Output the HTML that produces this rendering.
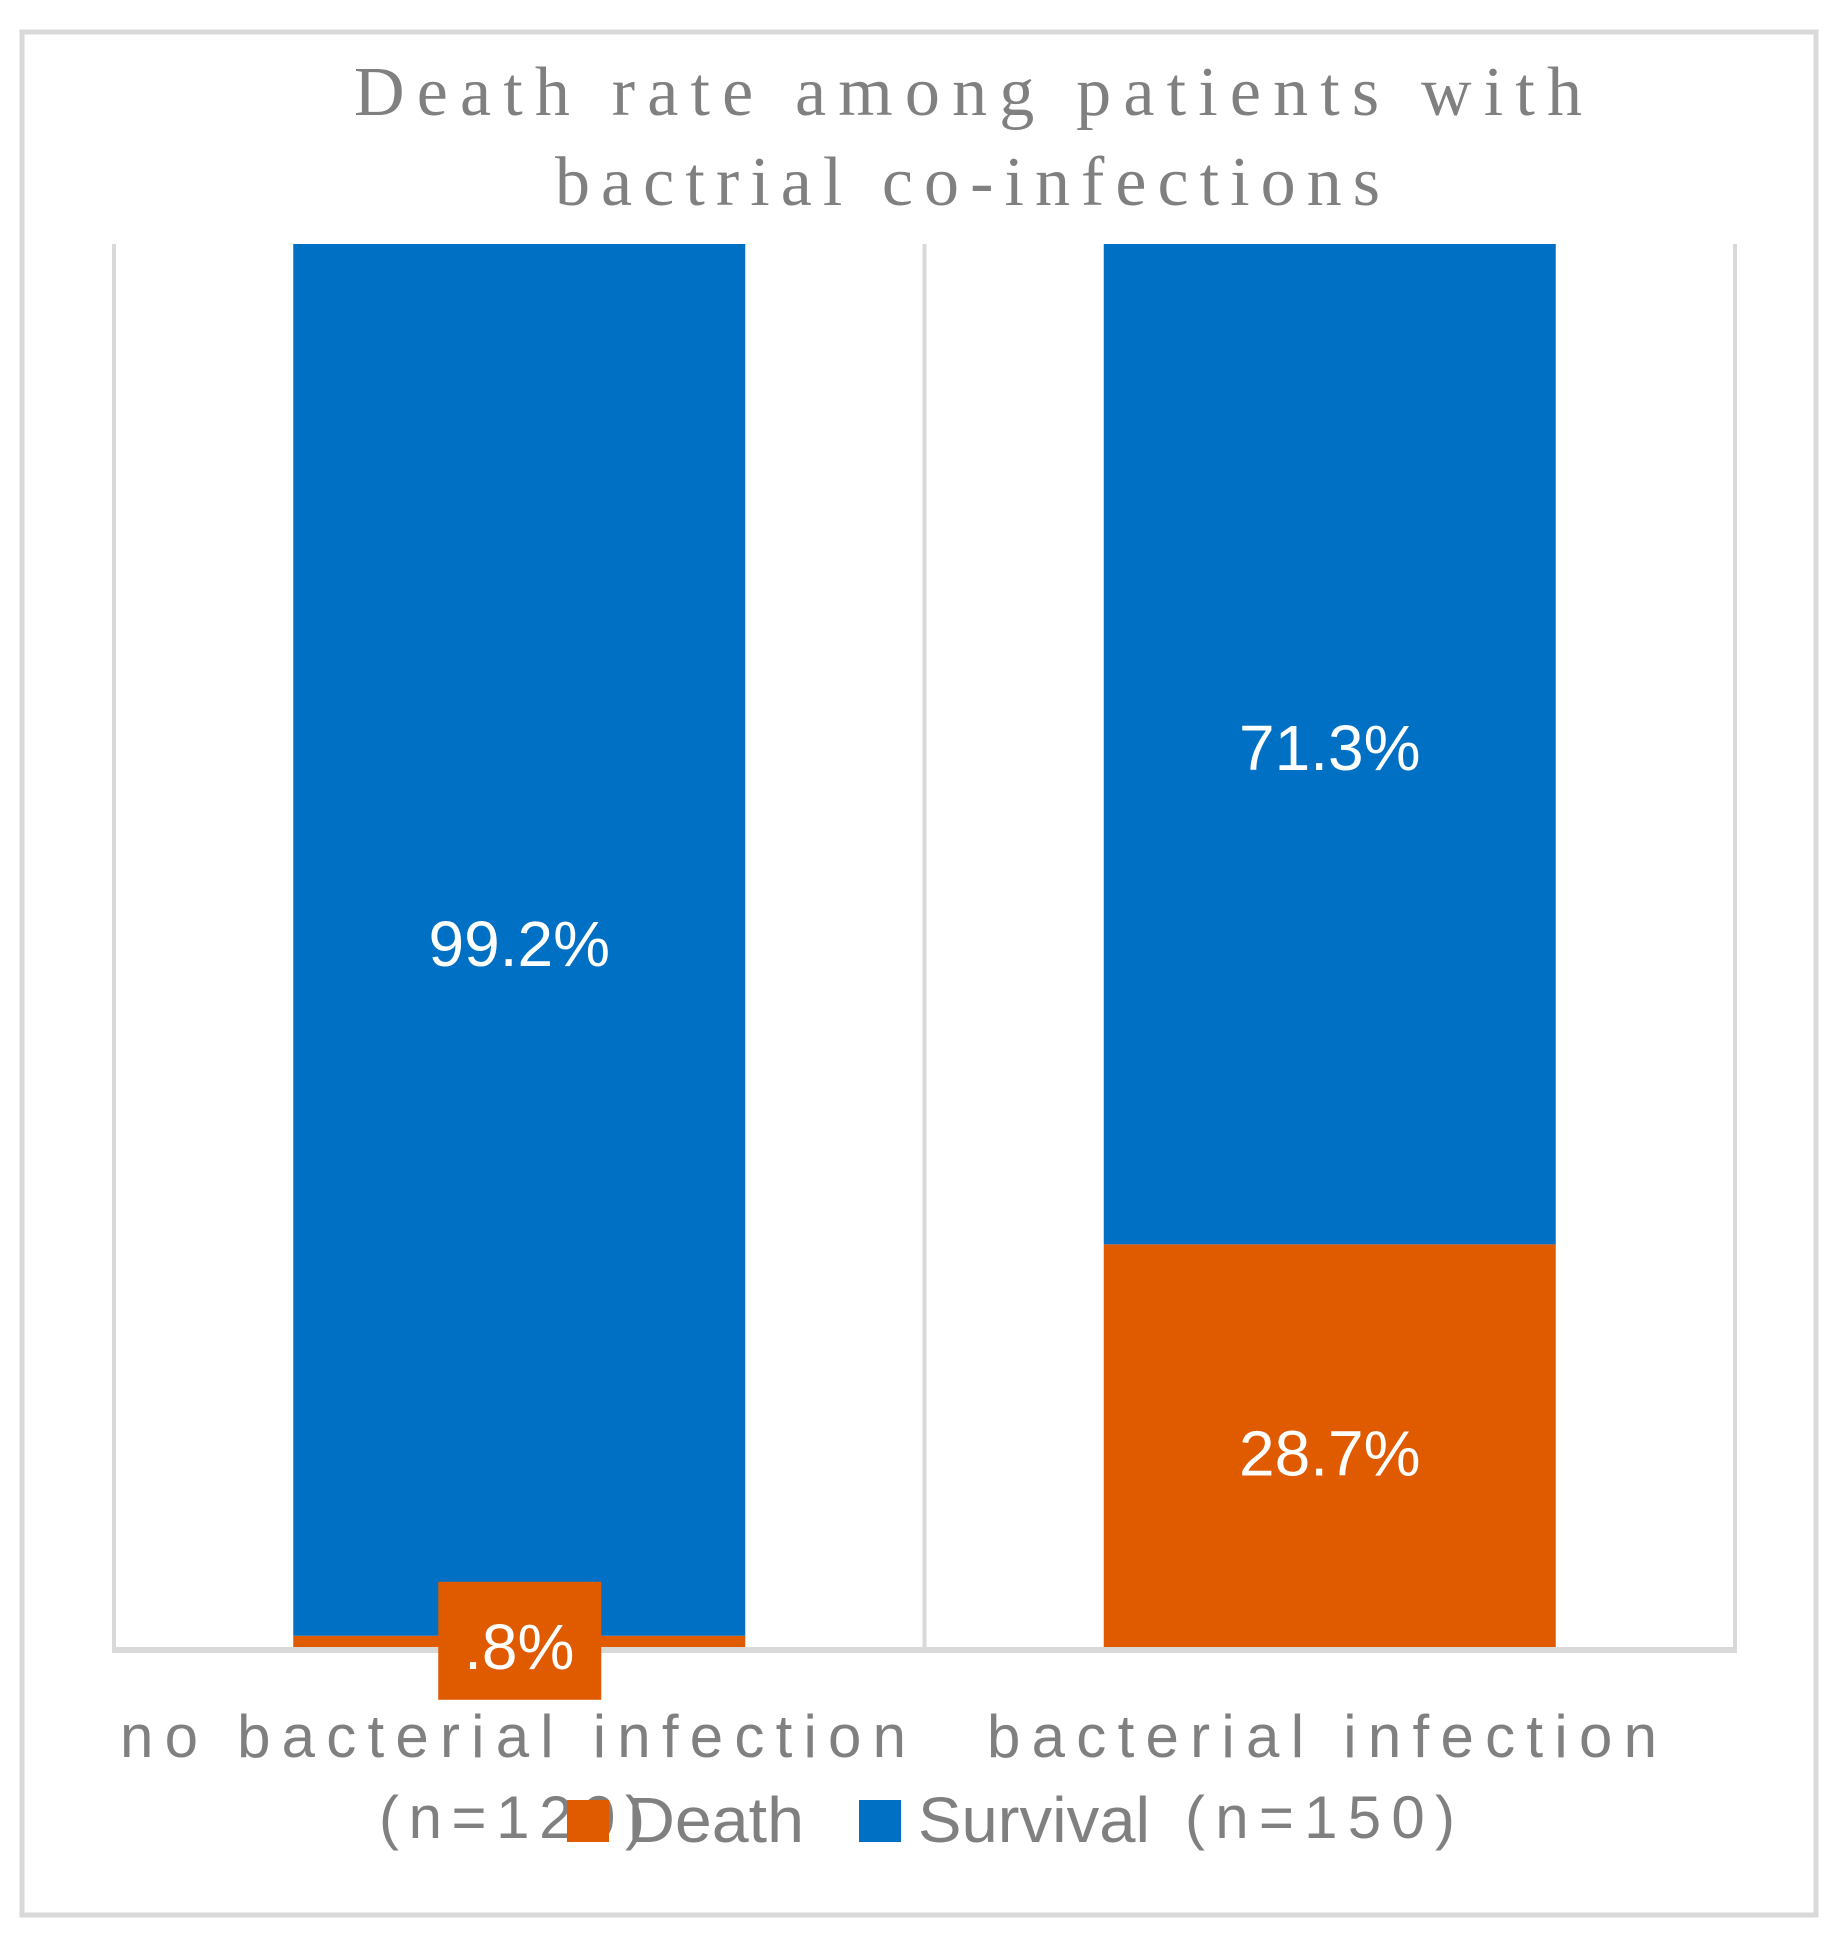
<!DOCTYPE html>
<html><head><meta charset="utf-8"><style>
html,body{margin:0;padding:0;background:#fff;}
svg{display:block;}
</style></head><body>
<svg id="chart" width="1832" height="1941" viewBox="0 0 1832 1941" xmlns="http://www.w3.org/2000/svg">
<rect x="22" y="32" width="1794" height="1883" fill="#fff" stroke="#d9d9d9" stroke-width="5"/>
<text x="354" y="115" font-family="'Liberation Serif', serif" font-size="70" fill="#808080" textLength="1228" lengthAdjust="spacing">Death rate among patients with</text>
<text x="555" y="205" font-family="'Liberation Serif', serif" font-size="70" fill="#808080" textLength="825" lengthAdjust="spacing">bactrial co-infections</text>
<g id="grid"></g>
<g id="bars"></g>
<g id="labels"></g>
<g font-family="'Liberation Sans', sans-serif" font-size="60" fill="#808080">
<text x="120" y="1757" textLength="786" lengthAdjust="spacing">no bacterial infection</text>
<text x="379" y="1838" textLength="266" lengthAdjust="spacing">(n=120)</text>
<text x="987" y="1757" textLength="670" lengthAdjust="spacing">bacterial infection</text>
<text x="1185" y="1838" textLength="270" lengthAdjust="spacing">(n=150)</text>
</g>
<g font-family="'Liberation Sans', sans-serif" font-size="64" fill="#808080">
<rect x="567" y="1800" width="42" height="42" fill="#e05a00"/>
<text x="627" y="1842" textLength="177" lengthAdjust="spacingAndGlyphs">Death</text>
<rect x="859" y="1800" width="42" height="42" fill="#0070c4"/>
<text x="918" y="1842" textLength="232" lengthAdjust="spacingAndGlyphs">Survival</text>
</g>
</svg>
<script>
const categories = ["no bacterial infection", "bacterial infection"];
const deathValues = [0.8, 28.7];
const survivalValues = [99.2, 71.3];
const deathLabels = [".8%", "28.7%"];
const survivalLabels = ["99.2%", "71.3%"];

const NS = "http://www.w3.org/2000/svg";
const plotTop = 244, plotBottom = 1647, plotLeft = 114, plotRight = 1735;
const yScale = v => plotBottom - (v / 100) * (plotBottom - plotTop);
const bandW = (plotRight - plotLeft) / categories.length;
const barW = 452;
const xCenter = i => plotLeft + bandW * (i + 0.5);

const grid = document.getElementById('grid');
for (let i = 0; i <= categories.length; i++) {
  const l = document.createElementNS(NS, 'line');
  const x = plotLeft + bandW * i;
  l.setAttribute('x1', x); l.setAttribute('x2', x);
  l.setAttribute('y1', plotTop); l.setAttribute('y2', plotBottom);
  l.setAttribute('stroke', '#d9d9d9'); l.setAttribute('stroke-width', 4);
  
  
  grid.appendChild(l);
}
const axis = document.createElementNS(NS, 'line');
axis.setAttribute('x1', plotLeft - 2); axis.setAttribute('x2', plotRight + 2);
axis.setAttribute('y1', plotBottom + 3); axis.setAttribute('y2', plotBottom + 3);
axis.setAttribute('stroke', '#d9d9d9'); axis.setAttribute('stroke-width', 6);


grid.appendChild(axis);

const bars = document.getElementById('bars');
const labels = document.getElementById('labels');
function mkText(x, y, s, name) {
  const t = document.createElementNS(NS, 'text');
  t.setAttribute('x', x); t.setAttribute('y', y);
  t.setAttribute('text-anchor', 'middle');
  t.setAttribute('font-family', "'Liberation Sans', sans-serif");
  t.setAttribute('font-size', 64);
  t.setAttribute('fill', '#fff');
  t.textContent = s;
  
  
  labels.appendChild(t);
}
categories.forEach((c, i) => {
  const cx = xCenter(i);
  const d0 = yScale(0), d1 = yScale(deathValues[i]);
  const s1 = yScale(deathValues[i] + survivalValues[i]);
  const rd = document.createElementNS(NS, 'rect');
  rd.setAttribute('x', cx - barW / 2); rd.setAttribute('width', barW);
  rd.setAttribute('y', d1); rd.setAttribute('height', d0 - d1);
  rd.setAttribute('fill', '#e05a00');
  
  
  bars.appendChild(rd);
  const rs = document.createElementNS(NS, 'rect');
  rs.setAttribute('x', cx - barW / 2); rs.setAttribute('width', barW);
  rs.setAttribute('y', s1); rs.setAttribute('height', d1 - s1);
  rs.setAttribute('fill', '#0070c4');
  
  
  bars.appendChild(rs);
  mkText(cx, (s1 + d1) / 2 + 26, survivalLabels[i], 'label-survival-' + i);
  if (d0 - d1 < 80) {
    const box = document.createElementNS(NS, 'rect');
    box.setAttribute('x', cx - 81); box.setAttribute('width', 163);
    box.setAttribute('y', d1 - 54); box.setAttribute('height', 118);
    box.setAttribute('fill', '#e05a00');
    
    
    labels.appendChild(box);
    mkText(cx, d1 + 33, deathLabels[i], 'label-death-' + i);
  } else {
    mkText(cx, (d0 + d1) / 2 + 30, deathLabels[i], 'label-death-' + i);
  }
});
</script>
</body></html>
